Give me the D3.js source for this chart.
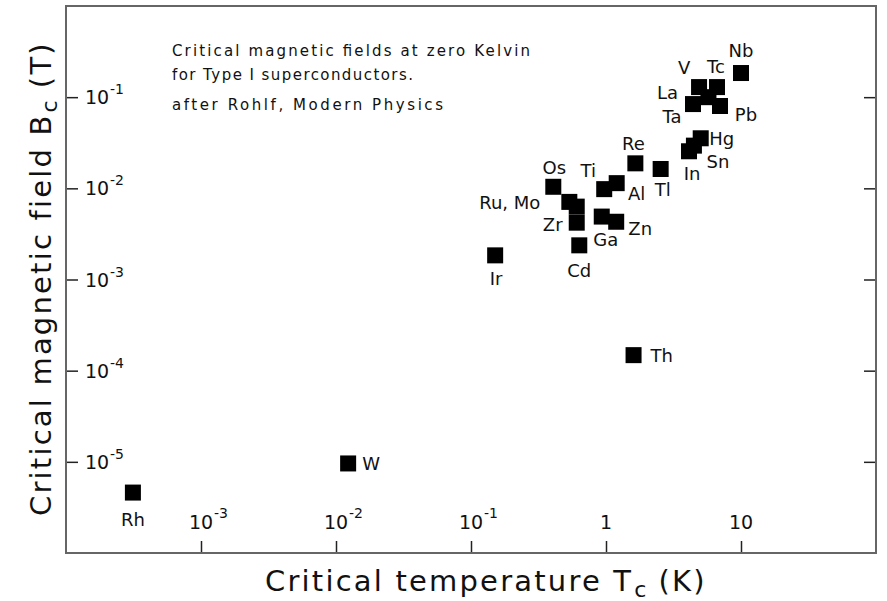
<!DOCTYPE html>
<html>
<head>
<meta charset="utf-8">
<script src="https://d3js.org/d3.v7.min.js"></script>
<style>
body { margin: 0; background: #fff; }
svg text { font-family: "DejaVu Sans", sans-serif; fill: #111; }
</style>
</head>
<body>
<svg id="chart" width="887" height="601"></svg>
<script>
// critical temperature (K) and critical field (T)
var elements = ["Nb", "V", "Tc", "La", "Ta", "Pb", "Hg", "Sn", "In", "Re", "Tl", "Os", "Ti", "Al", "Ru", "Mo", "Zr", "Ga", "Zn", "Cd", "Ir", "Th", "W", "Rh"];
var tcValues = [10.0, 4.89, 6.64, 5.74, 4.41, 6.99, 5.03, 4.48, 4.12, 1.65, 2.54, 0.407, 0.97, 1.20, 0.535, 0.607, 0.607, 0.93, 1.19, 0.634, 0.151, 1.60, 0.0123, 0.000313];
var bcValues = [0.184, 0.129, 0.129, 0.100, 0.084, 0.080, 0.0354, 0.0294, 0.0255, 0.0188, 0.0163, 0.0104, 0.0098, 0.0114, 0.0071, 0.0063, 0.0042, 0.0049, 0.0043, 0.00237, 0.00184, 0.000148, 0.0000096, 0.0000046];
var pointLabels = ["Nb", "V", "Tc", "La", "Ta", "Pb", "Hg", "Sn", "In", "Re", "Tl", "Os", "Ti", "Al", "Ru, Mo", "", "Zr", "Ga", "Zn", "Cd", "Ir", "Th", "W", "Rh"];

var xTicks = [1e-3, 1e-2, 1e-1, 1, 10];
var yTicks = [1e-5, 1e-4, 1e-3, 1e-2, 1e-1];
var noteLines = ["Critical magnetic fields at zero Kelvin", "for Type I superconductors.", "after Rohlf, Modern Physics"];

// where each label sits relative to its square: [dx, dy, anchor]
var labelPlace = {
	"Nb": [0, -23, "middle"], "V": [-15, -20, "middle"], "Tc": [-1, -21, "middle"],
	"La": [-41, -5, "middle"], "Ta": [-21, 12, "middle"], "Pb": [26, 8, "middle"],
	"Hg": [21, 0, "middle"], "Sn": [24, 16, "middle"], "In": [3, 22, "middle"],
	"Re": [-2, -20, "middle"], "Tl": [2, 21, "middle"], "Os": [1, -19, "middle"],
	"Ti": [-16, -19, "middle"], "Al": [20, 10, "middle"], "Ru, Mo": [-29, 1, "end"],
	"Zr": [-24, 2, "middle"], "Ga": [4, 23, "middle"], "Zn": [24, 7, "middle"],
	"Cd": [0, 25, "middle"], "Ir": [1, 23, "middle"], "Th": [17, 0, "start"],
	"W": [14, 0, "start"], "Rh": [0, 27, "middle"]
};

var svg = d3.select("#chart");
var frameL = 66, frameR = 876, frameT = 6, frameB = 553;
var sq = 16;

var x = d3.scaleLog().domain([1e-4, 1e2]).range([frameL, frameR]);
var y = d3.scaleLog().domain([1e-6, 1]).range([frameB, frameT]);

function styleTicks(g) {
	g.select(".domain").remove();
	g.selectAll(".tick line").attr("stroke", "#222").attr("stroke-width", 1.5);
}

// ticks all point into the plot
svg.append("g").attr("transform", "translate(0," + frameB + ")")
	.call(d3.axisTop(x).tickValues(xTicks).tickSize(12).tickFormat(""))
	.call(styleTicks);
svg.append("g").attr("transform", "translate(" + frameL + ",0)")
	.call(d3.axisRight(y).tickValues(yTicks).tickSize(12).tickFormat(""))
	.call(styleTicks);
svg.append("g").attr("transform", "translate(" + frameR + ",0)")
	.call(d3.axisLeft(y).tickValues(yTicks).tickSize(12).tickFormat(""))
	.call(styleTicks);

svg.append("rect")
	.attr("x", frameL).attr("y", frameT)
	.attr("width", frameR - frameL).attr("height", frameB - frameT)
	.attr("fill", "none").attr("stroke", "#666").attr("stroke-width", 2);

function expOf(v) { return Math.round(Math.log10(v)); }

// x tick labels sit inside the frame, above the ticks
xTicks.forEach(function(v) {
	var e = expOf(v);
	var base = e == 0 ? "1" : "10";
	svg.append("text").attr("x", x(v)).attr("y", 529)
		.attr("text-anchor", "middle").attr("font-size", 19).text(base);
	if (e < 0) {
		svg.append("text").attr("x", x(v) + 13).attr("y", 518)
			.attr("font-size", 14).text(String(e));
	}
});

yTicks.forEach(function(v) {
	var e = expOf(v);
	svg.append("text").attr("x", 85).attr("y", y(v) + 7)
		.attr("font-size", 19).text("10");
	svg.append("text").attr("x", 110).attr("y", y(v) - 3)
		.attr("font-size", 14).text(String(e));
});

// data squares
var pts = elements.map(function(d, i) {
	return {name: d, label: pointLabels[i], tc: tcValues[i], bc: bcValues[i]};
});

svg.selectAll(".pt").data(pts).enter().append("rect")
	.attr("class", "pt")
	.attr("x", function(d) { return x(d.tc) - sq / 2; })
	.attr("y", function(d) { return y(d.bc) - sq / 2; })
	.attr("width", sq).attr("height", sq)
	.attr("fill", "#000");

svg.selectAll(".ptlabel").data(pts.filter(function(d) { return d.label != ""; })).enter().append("text")
	.attr("class", "ptlabel")
	.attr("x", function(d) { return x(d.tc) + labelPlace[d.label][0]; })
	.attr("y", function(d) { return y(d.bc) + labelPlace[d.label][1] + 6.5; })
	.attr("text-anchor", function(d) { return labelPlace[d.label][2]; })
	.attr("font-size", 18)
	.text(function(d) { return d.label; });

// note in the upper left
var noteY = [56, 80, 110];
var noteW = [358, 241, 271];
noteLines.forEach(function(t, i) {
	svg.append("text").attr("x", 172).attr("y", noteY[i])
		.attr("font-size", 15)
		.attr("textLength", noteW[i]).attr("lengthAdjust", "spacing")
		.text(t);
});

// axis titles (the original font is widely spaced)
var xt = svg.append("text").attr("x", 265).attr("y", 591)
	.attr("font-size", 29).attr("letter-spacing", 2.2);
xt.append("tspan").text("Critical temperature T");
xt.append("tspan").attr("font-size", 22).attr("dy", 6).attr("dx", 1).text("c");
xt.append("tspan").attr("dy", -6).attr("dx", 10).text("(K)");

var yt = svg.append("text").attr("transform", "translate(51,516) rotate(-90)")
	.attr("font-size", 29).attr("letter-spacing", 2.2);
yt.append("tspan").text("Critical magnetic field B");
yt.append("tspan").attr("font-size", 22).attr("dy", 6).attr("dx", 1).text("c");
yt.append("tspan").attr("dy", -6).attr("dx", 10).text("(T)");
</script>
</body>
</html>
